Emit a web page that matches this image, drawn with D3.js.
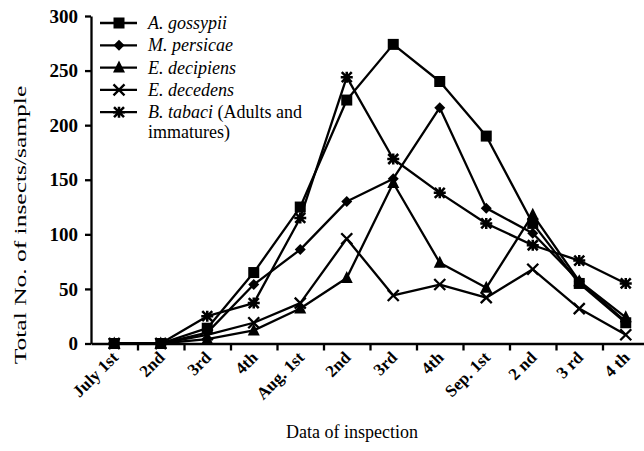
<!DOCTYPE html>
<html lang="en">
<head>
    <meta charset="UTF-8">
    <title>Insects per sample</title>
    <script src="https://cdn.jsdelivr.net/npm/d3@7"></script>
    <style>
        body { margin: 0; background: #fff; }
        svg text { font-family: "Liberation Serif", "Times New Roman", serif; fill: #000; }
        .tick text { font-weight: bold; }
        .serie path.ln { fill: none; stroke: #000; stroke-width: 2.3px; stroke-linejoin: round; }
    </style>
</head>
<body>
    <div id="chart"></div>
    <script>
        // dates of inspection
        var dates = ["July 1st", "2nd", "3rd", "4th", "Aug. 1st", "2nd", "3rd", "4th", "Sep. 1st", "2 nd", "3 rd", "4 th"];

        // insects per sample
        var gossypii  = [0, 0, 14, 65, 125, 223, 274, 240, 190, 110, 55, 19];
        var persicae  = [0, 0, 10, 54, 86, 130, 151, 216, 124, 101, 57, 20];
        var decipiens = [0, 0, 4, 12, 32, 60, 147, 74, 51, 118, 57, 24];
        var decedens  = [0, 0, 8, 19, 37, 96, 44, 54, 42, 68, 32, 8];
        var tabaci    = [0, 0, 25, 37, 115, 244, 169, 138, 110, 90, 76, 55];

        var yTicks = [0, 50, 100, 150, 200, 250, 300];

        var series = [
            {name: "A. gossypii", extra: "", values: gossypii, shape: "square"},
            {name: "M. persicae", extra: "", values: persicae, shape: "diamond"},
            {name: "E. decipiens", extra: "", values: decipiens, shape: "triangle"},
            {name: "E. decedens", extra: "", values: decedens, shape: "cross"},
            {name: "B. tabaci", extra: " (Adults and", values: tabaci, shape: "star"}
        ];

        var w = 644, h = 451;
        var padL = 91, padR = 649, padT = 16, padB = 343.5;

        var svg = d3.select("#chart").append("svg")
            .attr("width", w)
            .attr("height", h);

        var x = d3.scalePoint()
            .domain(d3.range(dates.length))
            .range([padL, padR])
            .padding(0.5);
        var xEdge = d3.scaleLinear().domain([0, dates.length]).range([padL, padR]);
        var y = d3.scaleLinear().domain([0, 300]).range([padB, padT]);

        // y axis
        svg.append("g")
            .attr("transform", "translate(" + padL + ",0)")
            .call(d3.axisLeft(y).tickValues(yTicks).tickSize(6).tickSizeOuter(0))
            .call(function(g) {
                g.selectAll("path, line").attr("stroke", "#000").attr("stroke-width", 2.3);
                g.selectAll("text").attr("font-size", "19px").attr("x", -13);
            });

        // x axis: ticks sit between dates
        svg.append("g")
            .attr("transform", "translate(0," + padB + ")")
            .call(d3.axisBottom(xEdge).tickValues(d3.range(1, dates.length)).tickFormat("").tickSize(7).tickSizeOuter(0))
            .call(function(g) {
                g.selectAll("path, line").attr("stroke", "#000").attr("stroke-width", 2.3);
            });

        svg.selectAll(".xlab")
            .data(dates)
            .enter()
            .append("text")
            .attr("class", "xlab")
            .attr("transform", function(d, i) { return "translate(" + (x(i) + 5) + "," + (padB + 15) + ") rotate(-45)"; })
            .attr("text-anchor", "end")
            .attr("font-size", "17px")
            .attr("font-weight", "bold")
            .text(function(d) { return d; });

        svg.append("text")
            .attr("x", 352)
            .attr("y", 438)
            .attr("text-anchor", "middle")
            .attr("font-size", "18px")
            .text("Data of inspection");

        // the title in the figure is drawn long and narrow
        svg.append("text")
            .attr("transform", "translate(26,225) rotate(-90) scale(1.5,1)")
            .attr("text-anchor", "middle")
            .attr("font-size", "17px")
            .text("Total No. of insects/sample");

        function marker(sel, shape) {
            if (shape === "square") {
                sel.append("rect").attr("x", -5.5).attr("y", -5.5).attr("width", 11).attr("height", 11).attr("fill", "#000");
            } else if (shape === "diamond") {
                sel.append("path").attr("d", "M0,-5.5L5.5,0L0,5.5L-5.5,0Z").attr("fill", "#000");
            } else if (shape === "triangle") {
                sel.append("path").attr("d", "M0,-7L6,5L-6,5Z").attr("fill", "#000");
            } else if (shape === "cross") {
                sel.append("path").attr("d", "M-5.5,-5.5L5.5,5.5M-5.5,5.5L5.5,-5.5").attr("stroke", "#000").attr("stroke-width", 2.3);
            } else {
                sel.append("path").attr("d", "M-5,-5L5,5M-5,5L5,-5M-6,0L6,0M0,-5.5L0,5.5").attr("stroke", "#000").attr("stroke-width", 2.5);
            }
        }

        var line = d3.line()
            .x(function(d, i) { return x(i); })
            .y(function(d) { return y(d); });

        var g = svg.selectAll(".serie")
            .data(series)
            .enter()
            .append("g")
            .attr("class", "serie");

        g.append("path").attr("class", "ln").attr("d", function(d) { return line(d.values); });

        g.each(function(s) {
            d3.select(this).selectAll(".pt")
                .data(s.values)
                .enter()
                .append("g")
                .attr("class", "pt")
                .attr("transform", function(d, i) { return "translate(" + x(i) + "," + y(d) + ")"; })
                .each(function() { marker(d3.select(this), s.shape); });
        });

        // legend
        var leg = svg.selectAll(".leg")
            .data(series)
            .enter()
            .append("g")
            .attr("class", "leg")
            .attr("transform", function(d, i) { return "translate(100," + (23 + i * 22.3) + ")"; });

        leg.append("line").attr("x1", 0).attr("x2", 37).attr("stroke", "#000").attr("stroke-width", 2.3);
        leg.append("g").attr("transform", "translate(19,0)").each(function(d) { marker(d3.select(this), d.shape); });

        var lt = leg.append("text")
            .attr("x", 48)
            .attr("y", 6)
            .attr("font-size", "18px");
        lt.append("tspan").attr("font-style", "italic").text(function(d) { return d.name; });
        lt.append("tspan").text(function(d) { return d.extra; });

        svg.append("text")
            .attr("x", 148)
            .attr("y", 138)
            .attr("font-size", "18px")
            .text("immatures)");
    </script>
</body>
</html>
